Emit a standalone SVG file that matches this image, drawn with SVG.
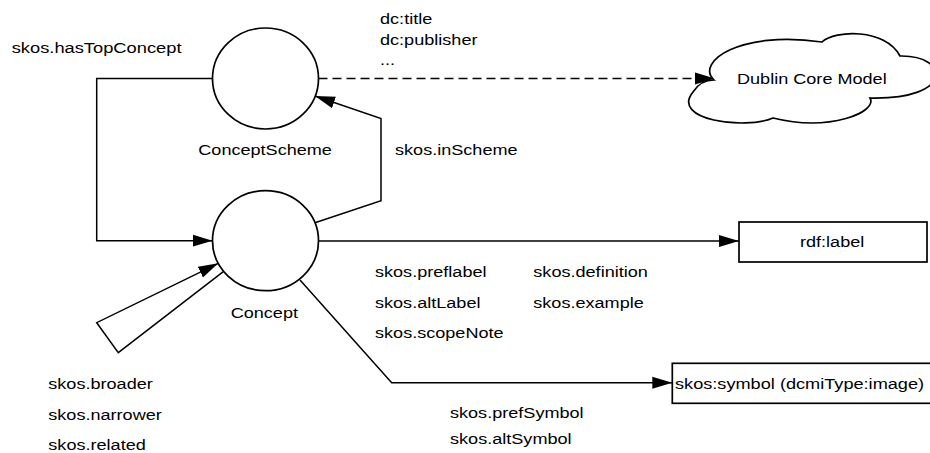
<svg xmlns="http://www.w3.org/2000/svg" width="930" height="453" viewBox="0 0 930 453">
<defs>
<style>
.t{font-family:"Liberation Sans",Arial,sans-serif;font-size:15.5px;fill:#000}
.n{fill:#fff;stroke:#000;stroke-width:1.7}
.c{fill:none;stroke:#000;stroke-width:1.5}
.d{stroke-dasharray:9 5}
</style>
<marker id="ah" markerUnits="userSpaceOnUse" markerWidth="21" markerHeight="13" refX="20" refY="6.5" orient="auto">
<path d="M0,0.5 L20,6.5 L0,12.5 z" fill="#000"/>
</marker>
</defs>
<rect width="930" height="453" fill="#fff"/>

<g id="connectors">
<polyline class="c" points="212.5,78.5 96.7,78.5 96.7,240.7 212.5,240.7" marker-end="url(#ah)"/>
<line class="c d" x1="318.5" y1="78.5" x2="715" y2="78.5" marker-end="url(#ah)"/>
<polyline class="c" points="315,222.7 381,200.7 381,118.5 315,96" marker-end="url(#ah)"/>
<line class="c" x1="318.5" y1="241" x2="739" y2="241" marker-end="url(#ah)"/>
<polyline class="c" points="300,280 391.7,382.7 672.3,382.7" marker-end="url(#ah)"/>
<polyline class="c" points="223.3,271.7 118.3,352.7 96.7,322.7 218.3,263.3" marker-end="url(#ah)"/>
</g>

<g id="labels">
<text class="t" x="11.7" y="53" textLength="169.8" lengthAdjust="spacingAndGlyphs">skos.hasTopConcept</text>
<text class="t" x="380" y="24" textLength="52.3" lengthAdjust="spacingAndGlyphs">dc:title</text>
<text class="t" x="380" y="44.5" textLength="97.5" lengthAdjust="spacingAndGlyphs">dc:publisher</text>
<text class="t" x="380" y="65" textLength="15.1" lengthAdjust="spacingAndGlyphs">...</text>
<text class="t" x="395" y="155" textLength="122.6" lengthAdjust="spacingAndGlyphs">skos.inScheme</text>
<text class="t" x="375" y="276.7" textLength="111.5" lengthAdjust="spacingAndGlyphs">skos.preflabel</text>
<text class="t" x="375" y="308.3" textLength="105.5" lengthAdjust="spacingAndGlyphs">skos.altLabel</text>
<text class="t" x="375" y="338.3" textLength="128.6" lengthAdjust="spacingAndGlyphs">skos.scopeNote</text>
<text class="t" x="533.3" y="276.7" textLength="114.6" lengthAdjust="spacingAndGlyphs">skos.definition</text>
<text class="t" x="533.3" y="308.3" textLength="110.5" lengthAdjust="spacingAndGlyphs">skos.example</text>
<text class="t" x="48.3" y="389" textLength="104.5" lengthAdjust="spacingAndGlyphs">skos.broader</text>
<text class="t" x="48.3" y="419.5" textLength="113.5" lengthAdjust="spacingAndGlyphs">skos.narrower</text>
<text class="t" x="48.3" y="450" textLength="97.5" lengthAdjust="spacingAndGlyphs">skos.related</text>
<text class="t" x="450" y="418.3" textLength="133.6" lengthAdjust="spacingAndGlyphs">skos.prefSymbol</text>
<text class="t" x="450" y="444.3" textLength="121.6" lengthAdjust="spacingAndGlyphs">skos.altSymbol</text>
</g>

<g id="ConceptScheme">
<ellipse class="n" cx="265.5" cy="78.5" rx="53" ry="50.5"/>
<text class="t" x="198.3" y="155" textLength="133.6" lengthAdjust="spacingAndGlyphs">ConceptScheme</text>
</g>

<g id="Concept">
<ellipse class="n" cx="265.5" cy="240.7" rx="53" ry="50"/>
<text class="t" x="230.7" y="318" textLength="67.3" lengthAdjust="spacingAndGlyphs">Concept</text>
</g>

<g id="DublinCoreModel">
<path class="n" d="M714,80 C695,62 740,30 822,42 C835,30 885,28 900,56 C950,55 955,100 870,98 C878,112 830,132 773,118 C745,130 670,120 693,92 C698,84 705,80 714,80 Z"/>
<text class="t" x="737" y="84" textLength="149.7" lengthAdjust="spacingAndGlyphs">Dublin Core Model</text>
</g>

<g id="rdfLabel">
<rect class="n" x="739" y="222" width="188" height="40"/>
<text class="t" x="800" y="246.7" textLength="64.3" lengthAdjust="spacingAndGlyphs">rdf:label</text>
</g>

<g id="skosSymbol">
<rect class="n" x="672.3" y="363.3" width="260" height="40"/>
<text class="t" x="675" y="389" textLength="249.1" lengthAdjust="spacingAndGlyphs">skos:symbol (dcmiType:image)</text>
</g>
</svg>
